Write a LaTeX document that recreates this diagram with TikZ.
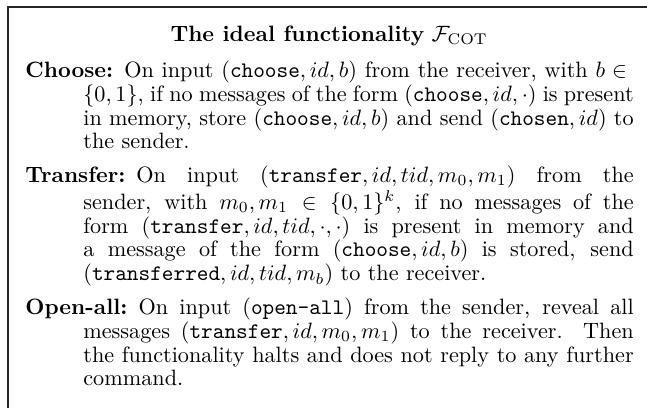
\documentclass[tikz,border=0pt]{standalone}
\tikzset{
  frameline/.style={line width=0.8pt, black!85},
  bodytext/.style={anchor=north west, text width=274pt, inner sep=0pt, align=justify, font=\fontsize{10}{10.72}\selectfont},
}
\newcommand{\itemhead}[1]{\hangindent=26.1pt\hangafter=1\noindent\textbf{#1}\hspace{0.5em}}
\begin{document}
\begin{tikzpicture}[x=1pt,y=1pt]
\useasboundingbox (0,0) rectangle (291.44,-183.78);
\coordinate (bl) at (3.6,-183.78);
\coordinate (tl) at (3.6,-3.15);
\coordinate (tr) at (291.44,-3.15);
\draw[frameline] (bl) -- (tl) -- (tr);
\node[anchor=base] (title) at (148.26,-18.5) {\textbf{The ideal functionality} $\mathcal{F}_{\mathrm{COT}}$};
\node[bodytext] (body) at (11.26,-27.2) {%
\setlength{\parindent}{0pt}%
\itemhead{Choose:}On input $(\texttt{choose}, id, b)$ from the receiver, with $b \in{}$\linebreak $\{0,1\}$, if no messages of the form $(\texttt{choose}, id, \cdot)$ is present\linebreak in memory, store $(\texttt{choose}, id, b)$ and send $(\texttt{chosen}, id)$ to\linebreak the sender.\par
\vspace{4.5pt}%
\itemhead{Transfer:}On input $(\texttt{transfer}, id, tid, m_0, m_1)$ from the\linebreak sender, with $m_0, m_1 \in \{0,1\}^k$, if no messages of the\linebreak form $(\texttt{transfer}, id, tid, \cdot, \cdot)$ is present in memory and\linebreak a message of the form $(\texttt{choose}, id, b)$ is stored, send\linebreak $(\texttt{transferred}, id, tid, m_b)$ to the receiver.\par
\vspace{4.5pt}%
\itemhead{Open-all:}On input $(\texttt{open-all})$ from the sender, reveal all\linebreak messages $(\texttt{transfer}, id, m_0, m_1)$ to the receiver. Then\linebreak the functionality halts and does not reply to any further\linebreak command.\par
};
\end{tikzpicture}
\end{document}
